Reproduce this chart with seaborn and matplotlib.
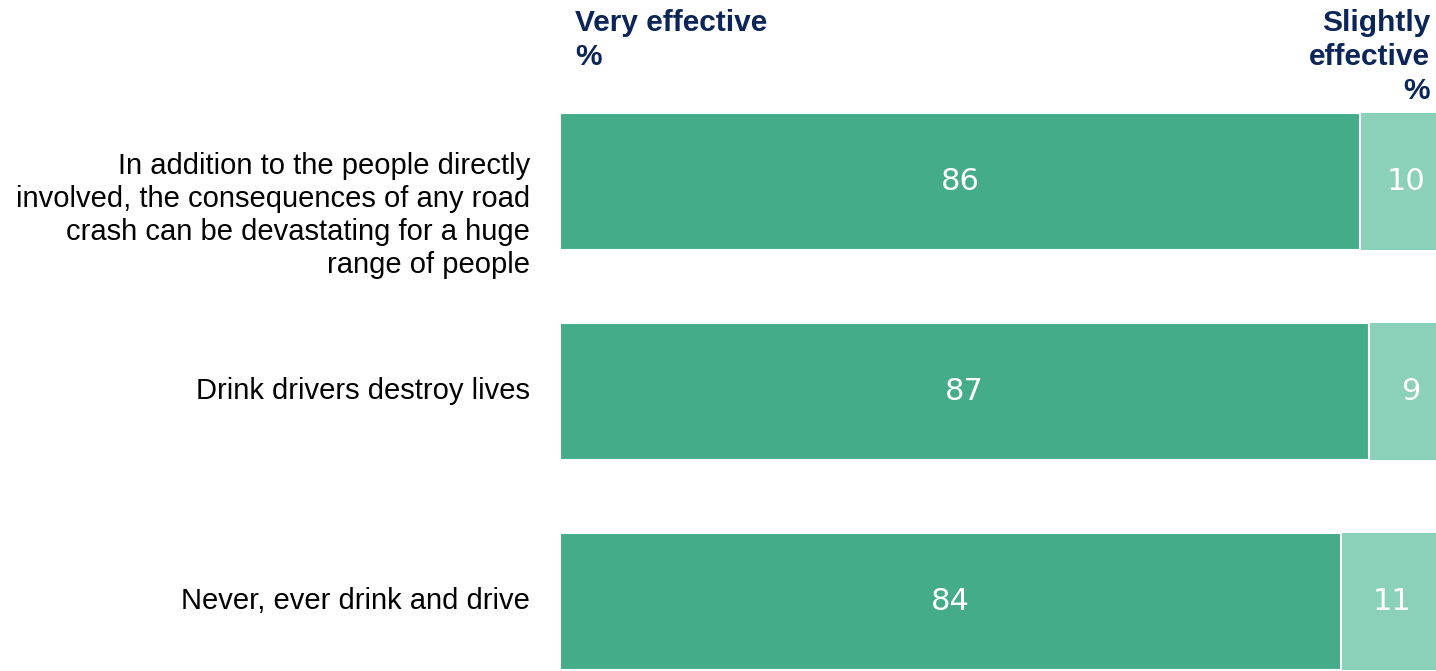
import numpy as np
import pandas as pd
import matplotlib
matplotlib.use("Agg")
import matplotlib.pyplot as plt
import matplotlib.transforms as mtransforms
import seaborn as sns

# Chart data
statements = [
    "In addition to the people directly\ninvolved, the consequences of any road\ncrash can be devastating for a huge\nrange of people",
    "Drink drivers destroy lives",
    "Never, ever drink and drive",
]
very_effective = [86, 87, 84]
slightly_effective = [10, 9, 11]
header_left = "Very effective\n%"
header_right = "Slightly\neffective\n%"

DARK = "#45AC8A"
LIGHT = "#8BD0B8"
NAVY = "#0B2559"

sns.set_theme(style="white")
plt.rcParams["font.family"] = ["Liberation Sans", "DejaVu Sans"]

df = pd.DataFrame({
    "statement": statements,
    "very": very_effective,
    "slightly": slightly_effective,
})
df["total"] = df["very"] + df["slightly"]

fig = plt.figure(figsize=(14.36, 6.71), dpi=100)
ax = fig.add_axes([560 / 1436, 0, 876 / 1436, 1 - 113 / 671])

# stacked: total in light, very-effective on top in dark
sns.barplot(data=df, y="statement", x="total", color=LIGHT, orient="h",
            width=0.652, ax=ax, saturation=1, linewidth=0)
sns.barplot(data=df, y="statement", x="very", color=DARK, orient="h",
            width=0.652, ax=ax, saturation=1, edgecolor="white", linewidth=1.5)

ax.set_xlim(0, 94.2)
ax.set_ylim(2 + (671 - 601.5) / 210, -0.326)
sns.despine(ax=ax, left=True, bottom=True)
ax.set_xticks([])
ax.set_yticks([])
ax.set_xlabel("")
ax.set_ylabel("")

# value labels
for i, row in df.iterrows():
    ax.text(row["very"] / 2, i, str(row["very"]), ha="center", va="center",
            color="white", fontsize=22, family="DejaVu Sans")
    ax.text(row["very"] + row["slightly"] / 2, i, str(row["slightly"]),
            ha="center", va="center", color="white", fontsize=22,
            family="DejaVu Sans")

# category labels at the left
trans = mtransforms.blended_transform_factory(ax.transAxes, ax.transData)
for i, s in enumerate(statements):
    y = i + (0.162 if "\n" in s else 0)
    ax.text(-30 / 876, y, s, transform=trans, ha="right", va="center",
            multialignment="right", fontsize=21, color="black",
            linespacing=1.22)

# column headers
fig.text(575 / 1436, 1 - 9 / 671, header_left, ha="left", va="top",
         fontsize=21.5, fontweight="bold", color=NAVY, linespacing=1.28)
fig.text(1430 / 1436, 1 - 9 / 671, header_right, ha="right", va="top",
         fontsize=21.5, fontweight="bold", color=NAVY, linespacing=1.28,
         multialignment="right")

fig.savefig("out.png", dpi=100)
